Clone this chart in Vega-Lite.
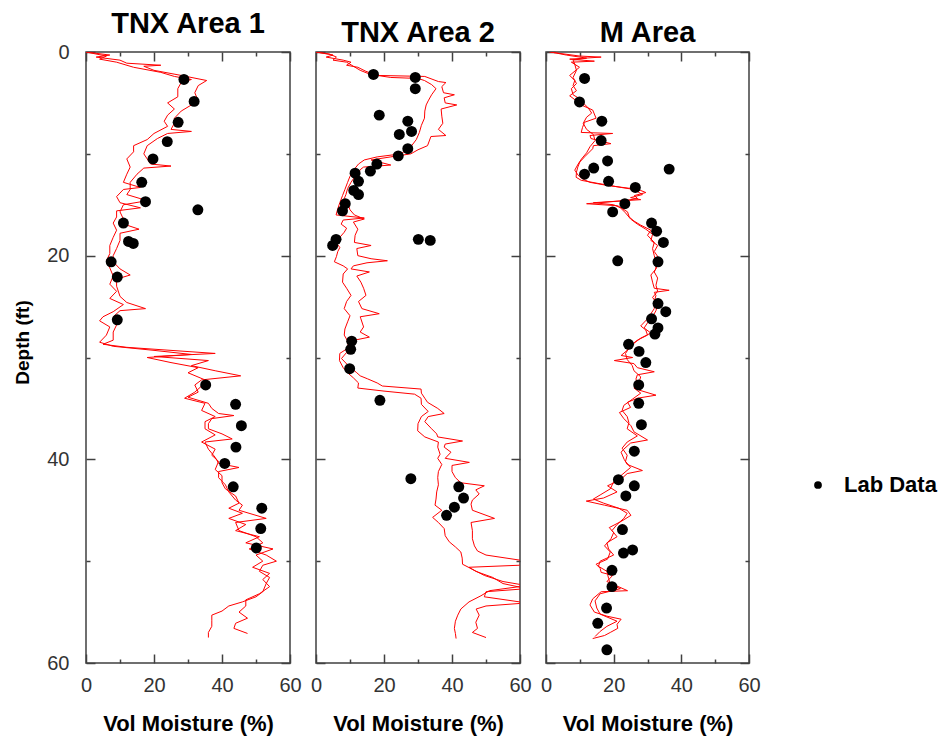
{
  "$schema": "https://vega.github.io/schema/vega-lite/v6.json",
  "background": "white",
  "padding": {"left": 12, "top": 9, "right": 5, "bottom": 5},
  "config": {
    "view": {"stroke": "#404040", "strokeWidth": 1.5},
    "font": "Liberation Sans",
    "concat": {"spacing": 7},
    "axis": {"domain": false, "grid": false, "zindex": 1, "tickColor": "#404040", "tickWidth": 1.5, "labelFont": "Liberation Sans", "labelColor": "#333333", "labelFontSize": 20, "labelFlush": false, "titleFont": "Liberation Sans", "titleFontWeight": "bold", "titleColor": "black"},
    "title": {"font": "Liberation Sans", "fontSize": 29, "fontWeight": "bold", "color": "black", "offset": 3}
  },
  "datasets": {
    "p1a": [
      {"depth":0,"vm":0},{"depth":0.3,"vm":7},{"depth":0.5,"vm":3},{"depth":0.8,"vm":10},{"depth":1.1,"vm":12},{"depth":1.3,"vm":22},{"depth":1.4,"vm":17},{"depth":1.8,"vm":20},{"depth":2.3,"vm":28},{"depth":2.8,"vm":35.5},{"depth":3.3,"vm":33},{"depth":4.0,"vm":32},{"depth":4.8,"vm":33},{"depth":5.2,"vm":31},{"depth":5.8,"vm":28},{"depth":6.5,"vm":26},{"depth":7.0,"vm":26},{"depth":7.6,"vm":25},{"depth":7.8,"vm":31},{"depth":8.0,"vm":24},{"depth":8.5,"vm":21},{"depth":9.2,"vm":18},{"depth":10.0,"vm":17},{"depth":10.5,"vm":18},{"depth":11.0,"vm":19},{"depth":11.2,"vm":25},{"depth":11.4,"vm":17},{"depth":12.0,"vm":15},{"depth":12.8,"vm":13},{"depth":13.5,"vm":13},{"depth":14.0,"vm":12},{"depth":14.6,"vm":18},{"depth":15.0,"vm":11},{"depth":15.7,"vm":10},{"depth":16.4,"vm":11},{"depth":17.0,"vm":12},{"depth":17.4,"vm":15.6},{"depth":17.8,"vm":10},{"depth":18.5,"vm":10},{"depth":19.3,"vm":9},{"depth":20.0,"vm":8},{"depth":20.6,"vm":8},{"depth":21.3,"vm":10},{"depth":21.9,"vm":13},{"depth":22.3,"vm":9},{"depth":23.0,"vm":9},{"depth":24.0,"vm":10},{"depth":24.6,"vm":12},{"depth":25.2,"vm":17.5},{"depth":25.4,"vm":10},{"depth":26.0,"vm":8},{"depth":26.8,"vm":9},{"depth":27.5,"vm":8},{"depth":28.3,"vm":8},{"depth":28.7,"vm":5},{"depth":29.0,"vm":12},{"depth":29.6,"vm":38},{"depth":29.9,"vm":20},{"depth":30.3,"vm":36},{"depth":30.8,"vm":31},{"depth":31.3,"vm":38},{"depth":31.8,"vm":45.5},{"depth":32.2,"vm":34},{"depth":32.7,"vm":32},{"depth":33.4,"vm":33},{"depth":33.9,"vm":30},{"depth":34.5,"vm":36},{"depth":35.0,"vm":37},{"depth":35.5,"vm":39},{"depth":35.7,"vm":43.5},{"depth":36.0,"vm":37},{"depth":36.5,"vm":36},{"depth":37.0,"vm":36},{"depth":37.5,"vm":40},{"depth":38.0,"vm":43},{"depth":38.3,"vm":35},{"depth":39.0,"vm":36},{"depth":39.8,"vm":38},{"depth":40.4,"vm":39},{"depth":40.8,"vm":45},{"depth":41.2,"vm":39},{"depth":41.8,"vm":39},{"depth":42.5,"vm":41},{"depth":43.2,"vm":42},{"depth":44.0,"vm":44},{"depth":44.5,"vm":46},{"depth":45.0,"vm":45},{"depth":45.8,"vm":53},{"depth":46.2,"vm":44},{"depth":47.0,"vm":45},{"depth":47.6,"vm":50},{"depth":48.2,"vm":52},{"depth":48.8,"vm":48},{"depth":49.4,"vm":53},{"depth":50.0,"vm":56},{"depth":50.4,"vm":52},{"depth":51.0,"vm":51},{"depth":51.6,"vm":54},{"depth":52.2,"vm":53},{"depth":53.0,"vm":52},{"depth":53.5,"vm":50},{"depth":54.0,"vm":46},{"depth":54.4,"vm":42},{"depth":54.9,"vm":40},{"depth":55.3,"vm":37},{"depth":55.8,"vm":37},{"depth":56.4,"vm":37},{"depth":57.0,"vm":36},{"depth":57.5,"vm":36}
    ],
    "p1b": [
      {"depth":0,"vm":0},{"depth":0.4,"vm":6},{"depth":0.7,"vm":4},{"depth":1.0,"vm":9},{"depth":1.5,"vm":14},{"depth":2.0,"vm":22},{"depth":2.4,"vm":26},{"depth":2.7,"vm":31},{"depth":3.0,"vm":28},{"depth":3.6,"vm":27},{"depth":4.4,"vm":27},{"depth":5.0,"vm":24},{"depth":5.6,"vm":26},{"depth":6.2,"vm":24},{"depth":6.8,"vm":23},{"depth":7.3,"vm":24},{"depth":8.0,"vm":20},{"depth":8.6,"vm":18},{"depth":9.2,"vm":14},{"depth":9.8,"vm":14},{"depth":10.5,"vm":12},{"depth":11.3,"vm":13},{"depth":12.0,"vm":12},{"depth":12.8,"vm":11},{"depth":13.3,"vm":16},{"depth":13.5,"vm":11},{"depth":14.2,"vm":9},{"depth":14.8,"vm":10},{"depth":15.3,"vm":16},{"depth":15.6,"vm":9},{"depth":16.2,"vm":9},{"depth":16.8,"vm":8},{"depth":17.5,"vm":9},{"depth":18.2,"vm":8},{"depth":19.0,"vm":7},{"depth":19.8,"vm":7},{"depth":20.5,"vm":6},{"depth":21.2,"vm":7},{"depth":22.0,"vm":8},{"depth":22.8,"vm":7},{"depth":23.5,"vm":9},{"depth":24.2,"vm":7},{"depth":24.8,"vm":11},{"depth":25.5,"vm":8},{"depth":26.0,"vm":5},{"depth":26.4,"vm":4},{"depth":27.0,"vm":7},{"depth":27.8,"vm":6},{"depth":28.5,"vm":4},{"depth":28.9,"vm":8},{"depth":29.3,"vm":20},{"depth":29.7,"vm":31},{"depth":30.0,"vm":18},{"depth":30.5,"vm":25},{"depth":31.0,"vm":33},{"depth":31.5,"vm":30},{"depth":32.2,"vm":35},{"depth":32.8,"vm":34},{"depth":33.4,"vm":32},{"depth":34.0,"vm":29},{"depth":34.5,"vm":35},{"depth":35.2,"vm":34},{"depth":35.8,"vm":38},{"depth":36.3,"vm":35},{"depth":37.0,"vm":35},{"depth":37.6,"vm":38},{"depth":38.3,"vm":34},{"depth":39.0,"vm":38},{"depth":39.6,"vm":37},{"depth":40.2,"vm":39},{"depth":41.0,"vm":38},{"depth":41.6,"vm":40},{"depth":42.3,"vm":40},{"depth":42.9,"vm":41},{"depth":43.6,"vm":44},{"depth":44.3,"vm":45},{"depth":44.8,"vm":42},{"depth":45.3,"vm":46},{"depth":45.8,"vm":42},{"depth":46.4,"vm":47},{"depth":47.0,"vm":44},{"depth":47.6,"vm":51},{"depth":48.2,"vm":47},{"depth":48.8,"vm":55},{"depth":49.4,"vm":50},{"depth":50.0,"vm":52},{"depth":50.6,"vm":49},{"depth":51.2,"vm":54},{"depth":51.8,"vm":52},{"depth":52.5,"vm":54},{"depth":53.2,"vm":51},{"depth":53.8,"vm":47},{"depth":54.4,"vm":47},{"depth":55.0,"vm":45},{"depth":55.6,"vm":47.5},{"depth":56.1,"vm":44},{"depth":56.6,"vm":43.5},{"depth":57.1,"vm":47.5}
    ],
    "p2a": [
      {"depth":0,"vm":0},{"depth":0.3,"vm":5},{"depth":0.5,"vm":3},{"depth":0.8,"vm":8},{"depth":1.0,"vm":10.3},{"depth":1.3,"vm":9},{"depth":1.5,"vm":12.3},{"depth":1.9,"vm":14.7},{"depth":2.3,"vm":18},{"depth":2.4,"vm":32},{"depth":2.9,"vm":36},{"depth":3.0,"vm":38.2},{"depth":3.4,"vm":37},{"depth":4.0,"vm":37.5},{"depth":4.2,"vm":40.7},{"depth":4.5,"vm":37.7},{"depth":5.0,"vm":38},{"depth":5.2,"vm":41.4},{"depth":5.6,"vm":36.8},{"depth":6.3,"vm":37},{"depth":7.0,"vm":37.3},{"depth":7.6,"vm":36},{"depth":8.2,"vm":38.2},{"depth":8.3,"vm":33.8},{"depth":9.2,"vm":32.8},{"depth":9.6,"vm":30},{"depth":10.0,"vm":27.9},{"depth":10.3,"vm":22},{"depth":10.6,"vm":16.2},{"depth":11.1,"vm":22},{"depth":11.3,"vm":14},{"depth":11.5,"vm":13.2},{"depth":12.2,"vm":11.5},{"depth":12.8,"vm":10.3},{"depth":13.4,"vm":9.3},{"depth":14.0,"vm":8.8},{"depth":14.4,"vm":8.3},{"depth":15.0,"vm":9.5},{"depth":15.5,"vm":10},{"depth":16.0,"vm":11.3},{"depth":16.4,"vm":14.2},{"depth":16.7,"vm":11},{"depth":17.4,"vm":12.3},{"depth":18.0,"vm":11.5},{"depth":18.7,"vm":11.3},{"depth":19.0,"vm":16.2},{"depth":19.3,"vm":12},{"depth":20.0,"vm":12.3},{"depth":20.3,"vm":16.2},{"depth":20.5,"vm":21},{"depth":20.7,"vm":15},{"depth":21.0,"vm":11},{"depth":21.3,"vm":10.3},{"depth":21.6,"vm":15.7},{"depth":22.0,"vm":12},{"depth":22.6,"vm":13.2},{"depth":23.2,"vm":14},{"depth":23.9,"vm":14.7},{"depth":24.5,"vm":12.5},{"depth":25.2,"vm":13.5},{"depth":25.7,"vm":18.6},{"depth":26.0,"vm":13},{"depth":26.2,"vm":13.2},{"depth":27.0,"vm":14},{"depth":27.5,"vm":13},{"depth":28.0,"vm":15.7},{"depth":28.3,"vm":11.3},{"depth":29.0,"vm":10.5},{"depth":29.5,"vm":9},{"depth":30.1,"vm":7.5},{"depth":30.8,"vm":9.5},{"depth":31.5,"vm":12},{"depth":31.8,"vm":13},{"depth":32.1,"vm":15.2},{"depth":32.5,"vm":18},{"depth":32.8,"vm":19.5},{"depth":33.1,"vm":30.9},{"depth":33.5,"vm":31},{"depth":34.0,"vm":32},{"depth":34.4,"vm":32.8},{"depth":35.0,"vm":35.8},{"depth":35.5,"vm":37.7},{"depth":35.8,"vm":33},{"depth":36.3,"vm":32},{"depth":37.0,"vm":34},{"depth":37.5,"vm":35.5},{"depth":37.8,"vm":35.8},{"depth":38.2,"vm":43.1},{"depth":38.5,"vm":38},{"depth":38.8,"vm":37.7},{"depth":39.3,"vm":39.7},{"depth":39.9,"vm":38},{"depth":40.3,"vm":45.1},{"depth":40.6,"vm":40},{"depth":41.2,"vm":40},{"depth":41.8,"vm":41},{"depth":42.3,"vm":42.6},{"depth":42.6,"vm":49.5},{"depth":43.0,"vm":47},{"depth":43.4,"vm":48},{"depth":44.0,"vm":46},{"depth":44.4,"vm":45.6},{"depth":45.0,"vm":46},{"depth":45.8,"vm":52.5},{"depth":46.2,"vm":45.6},{"depth":47.0,"vm":46},{"depth":47.8,"vm":46},{"depth":48.5,"vm":46.6},{"depth":49.0,"vm":47.5},{"depth":49.4,"vm":50},{"depth":50.0,"vm":62},{"depth":50.4,"vm":59.8},{"depth":50.6,"vm":45},{"depth":51.0,"vm":47},{"depth":51.6,"vm":52},{"depth":52.2,"vm":55},{"depth":52.7,"vm":62},{"depth":53.0,"vm":50},{"depth":53.5,"vm":49.5},{"depth":54.1,"vm":62},{"depth":54.4,"vm":50},{"depth":54.7,"vm":47.1},{"depth":55.3,"vm":48},{"depth":56.0,"vm":47},{"depth":56.6,"vm":47.5},{"depth":57.0,"vm":46},{"depth":57.5,"vm":50}
    ],
    "p2b": [
      {"depth":0,"vm":0},{"depth":0.2,"vm":4},{"depth":0.5,"vm":6},{"depth":0.8,"vm":5},{"depth":1.0,"vm":9},{"depth":1.4,"vm":11},{"depth":1.8,"vm":13},{"depth":2.2,"vm":16},{"depth":2.5,"vm":22},{"depth":2.6,"vm":30},{"depth":2.8,"vm":31.9},{"depth":3.2,"vm":34},{"depth":3.6,"vm":35.3},{"depth":4.2,"vm":34},{"depth":4.8,"vm":33},{"depth":5.2,"vm":32.4},{"depth":5.8,"vm":32},{"depth":6.5,"vm":31.9},{"depth":7.2,"vm":31},{"depth":7.9,"vm":30.4},{"depth":8.6,"vm":29.5},{"depth":9.3,"vm":27.9},{"depth":10.0,"vm":25},{"depth":10.3,"vm":18},{"depth":10.6,"vm":14.2},{"depth":11.0,"vm":12.5},{"depth":11.5,"vm":11.3},{"depth":12.2,"vm":10},{"depth":12.8,"vm":9.3},{"depth":13.5,"vm":8.5},{"depth":14.1,"vm":7.8},{"depth":14.8,"vm":7},{"depth":15.4,"vm":6.4},{"depth":16.0,"vm":5.9},{"depth":16.3,"vm":14.2},{"depth":16.5,"vm":8},{"depth":16.9,"vm":7.4},{"depth":17.3,"vm":9},{"depth":17.7,"vm":8.3},{"depth":18.2,"vm":7},{"depth":18.7,"vm":5.9},{"depth":19.2,"vm":7},{"depth":19.6,"vm":6.4},{"depth":20.1,"vm":6},{"depth":20.6,"vm":5.4},{"depth":21.0,"vm":8},{"depth":21.3,"vm":9.3},{"depth":21.8,"vm":8},{"depth":22.6,"vm":7.8},{"depth":23.2,"vm":9},{"depth":23.9,"vm":10.3},{"depth":24.5,"vm":9},{"depth":25.2,"vm":8.3},{"depth":25.9,"vm":10},{"depth":26.5,"vm":9.3},{"depth":27.2,"vm":8.5},{"depth":27.8,"vm":8.3},{"depth":28.5,"vm":9.5},{"depth":29.1,"vm":9.3},{"depth":29.6,"vm":7},{"depth":30.3,"vm":6.9},{"depth":31.0,"vm":8},{"depth":31.5,"vm":9.3},{"depth":32.0,"vm":11},{"depth":32.5,"vm":12.5},{"depth":33.0,"vm":12.3},{"depth":33.3,"vm":20},{"depth":33.6,"vm":29},{"depth":34.0,"vm":30.9},{"depth":34.6,"vm":31},{"depth":35.3,"vm":33},{"depth":35.8,"vm":31},{"depth":36.5,"vm":30},{"depth":37.2,"vm":29.9},{"depth":37.8,"vm":32},{"depth":38.3,"vm":36},{"depth":38.8,"vm":35.8},{"depth":39.5,"vm":36.5},{"depth":39.9,"vm":35.8},{"depth":40.5,"vm":37},{"depth":41.2,"vm":36},{"depth":41.8,"vm":35.8},{"depth":42.5,"vm":36},{"depth":43.2,"vm":35.5},{"depth":43.9,"vm":35.3},{"depth":44.5,"vm":35},{"depth":45.0,"vm":37},{"depth":45.7,"vm":34.3},{"depth":46.2,"vm":36},{"depth":46.8,"vm":37.7},{"depth":47.5,"vm":38},{"depth":48.1,"vm":39.2},{"depth":48.6,"vm":41},{"depth":49.1,"vm":42.6},{"depth":49.7,"vm":43},{"depth":50.3,"vm":43.1},{"depth":50.8,"vm":46},{"depth":51.4,"vm":49.5},{"depth":52.0,"vm":55},{"depth":52.4,"vm":62},{"depth":52.9,"vm":51},{"depth":53.4,"vm":48.5},{"depth":54.0,"vm":45},{"depth":54.7,"vm":42.6},{"depth":55.3,"vm":41.7},{"depth":55.9,"vm":41},{"depth":56.6,"vm":40.7},{"depth":57.1,"vm":41},{"depth":57.6,"vm":41.2}
    ],
    "p3a": [
      {"depth":0,"vm":1},{"depth":0.4,"vm":10},{"depth":0.5,"vm":16.3},{"depth":0.7,"vm":7},{"depth":0.9,"vm":14.3},{"depth":1.0,"vm":7.5},{"depth":1.5,"vm":9.9},{"depth":2.3,"vm":7},{"depth":2.8,"vm":8.5},{"depth":3.3,"vm":8},{"depth":3.8,"vm":9},{"depth":4.3,"vm":7},{"depth":4.8,"vm":9},{"depth":5.2,"vm":10.4},{"depth":5.7,"vm":13.8},{"depth":6.5,"vm":14.8},{"depth":6.9,"vm":11.4},{"depth":7.4,"vm":10.8},{"depth":7.9,"vm":10.4},{"depth":8.0,"vm":19.7},{"depth":8.2,"vm":13},{"depth":8.5,"vm":13.3},{"depth":9.0,"vm":19.2},{"depth":9.2,"vm":14},{"depth":9.5,"vm":13.8},{"depth":10.3,"vm":11.4},{"depth":10.8,"vm":10},{"depth":11.3,"vm":9.4},{"depth":11.8,"vm":9},{"depth":12.3,"vm":8.9},{"depth":12.6,"vm":10.4},{"depth":12.9,"vm":15.3},{"depth":13.3,"vm":22.2},{"depth":13.6,"vm":28},{"depth":13.8,"vm":29.5},{"depth":14.1,"vm":26.1},{"depth":14.4,"vm":27.1},{"depth":14.6,"vm":23},{"depth":14.9,"vm":12},{"depth":15.1,"vm":21.2},{"depth":15.7,"vm":24.1},{"depth":16.2,"vm":24.6},{"depth":16.6,"vm":26},{"depth":17.0,"vm":28},{"depth":17.5,"vm":31},{"depth":18.0,"vm":30},{"depth":18.7,"vm":32},{"depth":19.3,"vm":31.5},{"depth":20.0,"vm":32},{"depth":20.6,"vm":32.5},{"depth":21.3,"vm":32.5},{"depth":21.9,"vm":31},{"depth":22.6,"vm":31.5},{"depth":23.2,"vm":32},{"depth":23.4,"vm":36.4},{"depth":23.6,"vm":32},{"depth":23.9,"vm":32.5},{"depth":24.5,"vm":32},{"depth":25.2,"vm":32},{"depth":25.7,"vm":31},{"depth":26.2,"vm":30},{"depth":26.9,"vm":28},{"depth":27.3,"vm":29.5},{"depth":27.8,"vm":30},{"depth":28.3,"vm":27},{"depth":28.8,"vm":25.1},{"depth":29.3,"vm":24},{"depth":29.8,"vm":22.2},{"depth":30.0,"vm":25.6},{"depth":30.3,"vm":20.2},{"depth":30.6,"vm":26},{"depth":31.0,"vm":27},{"depth":31.4,"vm":32},{"depth":31.7,"vm":27},{"depth":32.1,"vm":26.6},{"depth":32.7,"vm":27},{"depth":33.2,"vm":27.5},{"depth":33.7,"vm":32.5},{"depth":34.0,"vm":27},{"depth":34.4,"vm":24.1},{"depth":34.9,"vm":25},{"depth":35.4,"vm":21.7},{"depth":36.0,"vm":23},{"depth":36.7,"vm":25.1},{"depth":37.3,"vm":26},{"depth":38.1,"vm":30},{"depth":38.4,"vm":25},{"depth":39.0,"vm":23},{"depth":39.3,"vm":22.2},{"depth":40.0,"vm":23.1},{"depth":40.5,"vm":24},{"depth":41.1,"vm":28.5},{"depth":41.4,"vm":24},{"depth":42.0,"vm":22},{"depth":42.6,"vm":18.2},{"depth":43.2,"vm":21},{"depth":43.8,"vm":17},{"depth":44.1,"vm":11.9},{"depth":44.5,"vm":17.3},{"depth":45.0,"vm":24},{"depth":45.5,"vm":25.1},{"depth":46.1,"vm":22.2},{"depth":46.7,"vm":18.7},{"depth":47.2,"vm":20},{"depth":47.8,"vm":19.2},{"depth":48.5,"vm":17.3},{"depth":49.1,"vm":19},{"depth":49.8,"vm":18.2},{"depth":50.3,"vm":14.8},{"depth":50.7,"vm":16},{"depth":51.1,"vm":16.3},{"depth":51.4,"vm":19.7},{"depth":52.0,"vm":18},{"depth":52.9,"vm":24.1},{"depth":53.0,"vm":16.3},{"depth":53.7,"vm":13.8},{"depth":54.3,"vm":13},{"depth":55.0,"vm":14.3},{"depth":55.4,"vm":18},{"depth":55.7,"vm":22.2},{"depth":56.2,"vm":21},{"depth":56.6,"vm":21.2},{"depth":57.0,"vm":19},{"depth":57.3,"vm":17.3},{"depth":57.6,"vm":13.8}
    ],
    "p3b": [
      {"depth":0,"vm":1.5},{"depth":0.3,"vm":6},{"depth":0.6,"vm":12},{"depth":0.8,"vm":8},{"depth":1.2,"vm":8.5},{"depth":1.8,"vm":9},{"depth":2.5,"vm":8},{"depth":3.1,"vm":9},{"depth":3.6,"vm":7.5},{"depth":4.2,"vm":8},{"depth":4.6,"vm":10},{"depth":5.0,"vm":11},{"depth":5.5,"vm":12.5},{"depth":6.0,"vm":13.5},{"depth":6.4,"vm":12},{"depth":7.0,"vm":11},{"depth":7.6,"vm":12},{"depth":8.1,"vm":14},{"depth":8.7,"vm":14.5},{"depth":9.3,"vm":13},{"depth":9.9,"vm":12},{"depth":10.5,"vm":10.5},{"depth":11.0,"vm":9.5},{"depth":11.6,"vm":8.5},{"depth":12.1,"vm":9.5},{"depth":12.5,"vm":11},{"depth":12.8,"vm":13},{"depth":13.1,"vm":18},{"depth":13.4,"vm":25},{"depth":13.7,"vm":27},{"depth":14.0,"vm":28.5},{"depth":14.3,"vm":25},{"depth":14.5,"vm":28},{"depth":14.8,"vm":14},{"depth":15.0,"vm":20},{"depth":15.3,"vm":22},{"depth":15.8,"vm":23.5},{"depth":16.4,"vm":25},{"depth":16.9,"vm":27},{"depth":17.4,"vm":29.5},{"depth":17.9,"vm":31.5},{"depth":18.5,"vm":31},{"depth":19.0,"vm":33},{"depth":19.6,"vm":32},{"depth":20.3,"vm":33.5},{"depth":20.9,"vm":33},{"depth":21.6,"vm":32},{"depth":22.2,"vm":33},{"depth":22.9,"vm":32.5},{"depth":23.5,"vm":33},{"depth":24.1,"vm":31.5},{"depth":24.8,"vm":33},{"depth":25.4,"vm":32.5},{"depth":26.0,"vm":31.5},{"depth":26.6,"vm":30},{"depth":27.1,"vm":29},{"depth":27.6,"vm":31},{"depth":28.1,"vm":28},{"depth":28.6,"vm":26},{"depth":29.1,"vm":24.5},{"depth":29.6,"vm":23.5},{"depth":30.2,"vm":24},{"depth":30.8,"vm":25.5},{"depth":31.3,"vm":26},{"depth":31.9,"vm":28},{"depth":32.4,"vm":27.5},{"depth":33.0,"vm":26},{"depth":33.5,"vm":28},{"depth":34.1,"vm":25.5},{"depth":34.7,"vm":23},{"depth":35.2,"vm":22.5},{"depth":35.8,"vm":24},{"depth":36.4,"vm":24.5},{"depth":37.0,"vm":24},{"depth":37.7,"vm":27},{"depth":38.3,"vm":24},{"depth":38.9,"vm":22.5},{"depth":39.6,"vm":24},{"depth":40.2,"vm":23.5},{"depth":40.8,"vm":25},{"depth":41.5,"vm":22.5},{"depth":42.2,"vm":20},{"depth":42.9,"vm":19},{"depth":43.5,"vm":16},{"depth":43.9,"vm":14},{"depth":44.3,"vm":17},{"depth":44.8,"vm":21.5},{"depth":45.3,"vm":24},{"depth":45.8,"vm":23},{"depth":46.4,"vm":21},{"depth":47.0,"vm":19.5},{"depth":47.6,"vm":21},{"depth":48.2,"vm":18},{"depth":48.8,"vm":18.5},{"depth":49.4,"vm":20},{"depth":50.0,"vm":16},{"depth":50.5,"vm":15.5},{"depth":51.0,"vm":18},{"depth":51.7,"vm":18.5},{"depth":52.3,"vm":19},{"depth":52.7,"vm":22},{"depth":53.2,"vm":16},{"depth":53.9,"vm":14.5},{"depth":54.6,"vm":15},{"depth":55.2,"vm":16},{"depth":55.9,"vm":21},{"depth":56.4,"vm":18},{"depth":56.9,"vm":16},{"depth":57.4,"vm":14.5}
    ],
    "lab1": [
      {"depth":2.7,"vm":28.8},{"depth":4.85,"vm":31.8},{"depth":6.9,"vm":27.1},{"depth":8.8,"vm":23.9},{"depth":10.5,"vm":19.7},{"depth":12.8,"vm":16.4},{"depth":14.7,"vm":17.5},{"depth":15.5,"vm":32.9},{"depth":16.8,"vm":11.0},{"depth":18.6,"vm":12.5},{"depth":18.8,"vm":13.9},{"depth":20.6,"vm":7.4},{"depth":22.1,"vm":9.2},{"depth":26.3,"vm":9.2},{"depth":32.7,"vm":35.2},{"depth":34.6,"vm":44.0},{"depth":36.7,"vm":45.7},{"depth":38.8,"vm":44.1},{"depth":40.4,"vm":40.8},{"depth":42.7,"vm":43.3},{"depth":44.8,"vm":51.7},{"depth":46.8,"vm":51.4},{"depth":48.7,"vm":50.1}
    ],
    "lab2": [
      {"depth":2.2,"vm":16.9},{"depth":2.5,"vm":29.2},{"depth":3.6,"vm":29.2},{"depth":6.2,"vm":18.6},{"depth":6.8,"vm":27.0},{"depth":7.8,"vm":28.1},{"depth":8.1,"vm":24.5},{"depth":9.5,"vm":27.0},{"depth":10.2,"vm":24.2},{"depth":11.0,"vm":17.9},{"depth":11.7,"vm":16.0},{"depth":11.9,"vm":11.5},{"depth":12.7,"vm":12.5},{"depth":13.6,"vm":11.1},{"depth":14.0,"vm":12.5},{"depth":14.9,"vm":8.6},{"depth":15.6,"vm":7.8},{"depth":18.4,"vm":5.9},{"depth":19.0,"vm":4.9},{"depth":18.4,"vm":30.1},{"depth":18.5,"vm":33.6},{"depth":28.4,"vm":10.5},{"depth":29.2,"vm":10.2},{"depth":31.1,"vm":9.9},{"depth":34.2,"vm":18.8},{"depth":41.9,"vm":27.9},{"depth":42.7,"vm":42.0},{"depth":43.8,"vm":43.4},{"depth":44.7,"vm":40.7},{"depth":45.5,"vm":38.4}
    ],
    "lab3": [
      {"depth":2.6,"vm":11.4},{"depth":4.9,"vm":9.9},{"depth":6.8,"vm":16.5},{"depth":8.7,"vm":16.3},{"depth":10.7,"vm":18.2},{"depth":11.4,"vm":14.1},{"depth":11.5,"vm":36.4},{"depth":12.0,"vm":11.4},{"depth":12.7,"vm":18.5},{"depth":13.3,"vm":26.4},{"depth":14.9,"vm":23.3},{"depth":15.7,"vm":19.7},{"depth":16.8,"vm":31.2},{"depth":17.6,"vm":32.7},{"depth":18.7,"vm":34.7},{"depth":20.5,"vm":21.2},{"depth":20.6,"vm":33.1},{"depth":24.7,"vm":33.1},{"depth":25.5,"vm":35.4},{"depth":26.2,"vm":31.2},{"depth":27.1,"vm":33.1},{"depth":27.7,"vm":32.2},{"depth":28.7,"vm":24.4},{"depth":29.4,"vm":27.5},{"depth":30.5,"vm":29.5},{"depth":32.7,"vm":27.4},{"depth":34.5,"vm":27.4},{"depth":36.6,"vm":28.2},{"depth":39.2,"vm":26.1},{"depth":42.0,"vm":21.4},{"depth":42.6,"vm":26.1},{"depth":43.6,"vm":23.6},{"depth":46.9,"vm":22.6},{"depth":48.9,"vm":25.6},{"depth":49.2,"vm":22.9},{"depth":50.9,"vm":19.5},{"depth":52.5,"vm":19.5},{"depth":54.6,"vm":17.9},{"depth":56.1,"vm":15.3},{"depth":58.7,"vm":18.0}
    ]
  },
  "hconcat": [
    {
      "width": 204, "height": 611,
      "title": "TNX Area 1",
      "resolve": {"axis": {"x": "independent", "y": "independent"}},
      "layer": [
        {"data": {"name": "p1a"}, "mark": {"type": "line", "color": "#ff0000", "strokeWidth": 1, "clip": true},
         "encoding": {
           "x": {"field": "vm", "type": "quantitative", "scale": {"domain": [0, 60], "nice": false}, "axis": {"orient": "bottom", "values": [0, 20, 40, 60], "tickSize": -9, "labelPadding": 21, "title": "Vol Moisture (%)", "titleFontSize": 22, "titlePadding": 18}},
           "y": {"field": "depth", "type": "quantitative", "scale": {"domain": [0, 60], "nice": false, "reverse": true}, "axis": {"orient": "left", "values": [0, 20, 40, 60], "tickSize": -9, "labelPadding": 26, "title": "Depth (ft)", "titleFontSize": 19, "titleX": -54, "titleY": 290}},
           "order": {"field": "depth", "type": "quantitative"}}},
        {"data": {"name": "p1b"}, "mark": {"type": "line", "color": "#ff0000", "strokeWidth": 1, "clip": true},
         "encoding": {
           "x": {"field": "vm", "type": "quantitative", "axis": {"orient": "top", "values": [0, 20, 40, 60], "tickSize": -9, "labels": false, "title": null}},
           "y": {"field": "depth", "type": "quantitative", "axis": {"orient": "right", "values": [0, 20, 40, 60], "tickSize": -9, "labels": false, "title": null}},
           "order": {"field": "depth", "type": "quantitative"}}},
        {"data": {"name": "lab1"}, "mark": {"type": "point", "filled": true, "shape": "circle", "size": 120, "opacity": 1},
         "encoding": {
           "x": {"field": "vm", "type": "quantitative", "axis": {"orient": "bottom", "values": [10, 30, 50], "tickSize": -4, "labels": false, "title": null}},
           "y": {"field": "depth", "type": "quantitative", "axis": {"orient": "left", "values": [10, 30, 50], "tickSize": -4, "labels": false, "title": null}},
           "color": {"datum": "Lab Data", "type": "nominal", "scale": {"range": ["black"]}, "legend": {"title": null, "orient": "none", "legendX": 721, "legendY": 422, "labelFontSize": 22, "labelFontWeight": "bold", "labelColor": "black", "symbolSize": 60, "symbolType": "circle", "labelOffset": 15}}}},
        {"data": {"name": "lab1"}, "mark": {"type": "point", "filled": true, "opacity": 0},
         "encoding": {
           "x": {"field": "vm", "type": "quantitative", "axis": {"orient": "top", "values": [10, 30, 50], "tickSize": -4, "labels": false, "title": null}},
           "y": {"field": "depth", "type": "quantitative", "axis": {"orient": "right", "values": [10, 30, 50], "tickSize": -4, "labels": false, "title": null}}}}
      ]
    },
    {
      "width": 204, "height": 611,
      "title": "TNX Area 2",
      "resolve": {"axis": {"x": "independent", "y": "independent"}},
      "layer": [
        {"data": {"name": "p2a"}, "mark": {"type": "line", "color": "#ff0000", "strokeWidth": 1, "clip": true},
         "encoding": {
           "x": {"field": "vm", "type": "quantitative", "scale": {"domain": [0, 60], "nice": false}, "axis": {"orient": "bottom", "values": [0, 20, 40, 60], "tickSize": -9, "labelPadding": 21, "title": "Vol Moisture (%)", "titleFontSize": 22, "titlePadding": 18}},
           "y": {"field": "depth", "type": "quantitative", "scale": {"domain": [0, 60], "nice": false, "reverse": true}, "axis": {"orient": "left", "values": [0, 20, 40, 60], "tickSize": -9, "labels": false, "title": null}},
           "order": {"field": "depth", "type": "quantitative"}}},
        {"data": {"name": "p2b"}, "mark": {"type": "line", "color": "#ff0000", "strokeWidth": 1, "clip": true},
         "encoding": {
           "x": {"field": "vm", "type": "quantitative", "axis": {"orient": "top", "values": [0, 20, 40, 60], "tickSize": -9, "labels": false, "title": null}},
           "y": {"field": "depth", "type": "quantitative", "axis": {"orient": "right", "values": [0, 20, 40, 60], "tickSize": -9, "labels": false, "title": null}},
           "order": {"field": "depth", "type": "quantitative"}}},
        {"data": {"name": "lab2"}, "mark": {"type": "point", "filled": true, "shape": "circle", "size": 120, "opacity": 1},
         "encoding": {
           "x": {"field": "vm", "type": "quantitative", "axis": {"orient": "bottom", "values": [10, 30, 50], "tickSize": -4, "labels": false, "title": null}},
           "y": {"field": "depth", "type": "quantitative", "axis": {"orient": "left", "values": [10, 30, 50], "tickSize": -4, "labels": false, "title": null}},
           "color": {"datum": "Lab Data", "type": "nominal", "scale": {"range": ["black"]}}}},
        {"data": {"name": "lab2"}, "mark": {"type": "point", "filled": true, "opacity": 0},
         "encoding": {
           "x": {"field": "vm", "type": "quantitative", "axis": {"orient": "top", "values": [10, 30, 50], "tickSize": -4, "labels": false, "title": null}},
           "y": {"field": "depth", "type": "quantitative", "axis": {"orient": "right", "values": [10, 30, 50], "tickSize": -4, "labels": false, "title": null}}}}
      ]
    },
    {
      "width": 203, "height": 611,
      "title": "M Area",
      "resolve": {"axis": {"x": "independent", "y": "independent"}},
      "layer": [
        {"data": {"name": "p3a"}, "mark": {"type": "line", "color": "#ff0000", "strokeWidth": 1, "clip": true},
         "encoding": {
           "x": {"field": "vm", "type": "quantitative", "scale": {"domain": [0, 60], "nice": false}, "axis": {"orient": "bottom", "values": [0, 20, 40, 60], "tickSize": -9, "labelPadding": 21, "title": "Vol Moisture (%)", "titleFontSize": 22, "titlePadding": 18}},
           "y": {"field": "depth", "type": "quantitative", "scale": {"domain": [0, 60], "nice": false, "reverse": true}, "axis": {"orient": "left", "values": [0, 20, 40, 60], "tickSize": -9, "labels": false, "title": null}},
           "order": {"field": "depth", "type": "quantitative"}}},
        {"data": {"name": "p3b"}, "mark": {"type": "line", "color": "#ff0000", "strokeWidth": 1, "clip": true},
         "encoding": {
           "x": {"field": "vm", "type": "quantitative", "axis": {"orient": "top", "values": [0, 20, 40, 60], "tickSize": -9, "labels": false, "title": null}},
           "y": {"field": "depth", "type": "quantitative", "axis": {"orient": "right", "values": [0, 20, 40, 60], "tickSize": -9, "labels": false, "title": null}},
           "order": {"field": "depth", "type": "quantitative"}}},
        {"data": {"name": "lab3"}, "mark": {"type": "point", "filled": true, "shape": "circle", "size": 120, "opacity": 1},
         "encoding": {
           "x": {"field": "vm", "type": "quantitative", "axis": {"orient": "bottom", "values": [10, 30, 50], "tickSize": -4, "labels": false, "title": null}},
           "y": {"field": "depth", "type": "quantitative", "axis": {"orient": "left", "values": [10, 30, 50], "tickSize": -4, "labels": false, "title": null}},
           "color": {"datum": "Lab Data", "type": "nominal", "scale": {"range": ["black"]}}}},
        {"data": {"name": "lab3"}, "mark": {"type": "point", "filled": true, "opacity": 0},
         "encoding": {
           "x": {"field": "vm", "type": "quantitative", "axis": {"orient": "top", "values": [10, 30, 50], "tickSize": -4, "labels": false, "title": null}},
           "y": {"field": "depth", "type": "quantitative", "axis": {"orient": "right", "values": [10, 30, 50], "tickSize": -4, "labels": false, "title": null}}}}
      ]
    }
  ]
}
